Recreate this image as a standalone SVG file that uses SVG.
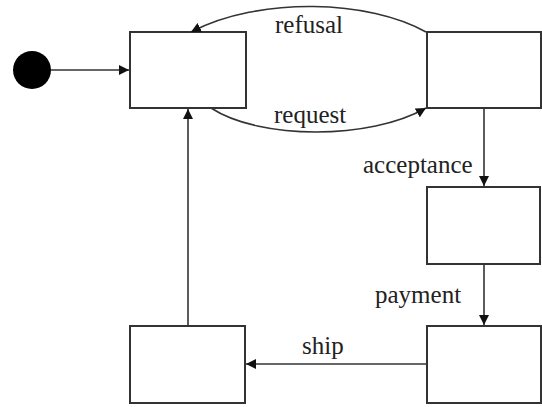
<svg xmlns="http://www.w3.org/2000/svg" width="542" height="407" viewBox="0 0 542 407">
<defs>
<marker id="ah" viewBox="0 0 10 10" refX="10" refY="5" markerWidth="10" markerHeight="10" markerUnits="userSpaceOnUse" orient="auto">
<path d="M0,0 L10,5 L0,10 z" fill="#111"/>
</marker>
</defs>
<style>
.box{fill:#fff;stroke:#333;stroke-width:2}
.con{fill:none;stroke:#333;stroke-width:1.6;marker-end:url(#ah)}
.lbl{font-family:"Liberation Serif",serif;font-size:25px;fill:#222}
</style>
<g id="start"><circle cx="32" cy="70" r="19" fill="#000"/></g>
<g id="s1"><rect class="box" x="130" y="32" width="116" height="76"/></g>
<g id="s2"><rect class="box" x="427" y="32" width="114" height="76"/></g>
<g id="s3"><rect class="box" x="427" y="187" width="113" height="77"/></g>
<g id="s4"><rect class="box" x="427" y="326" width="114" height="77"/></g>
<g id="s5"><rect class="box" x="130" y="326" width="115" height="77"/></g>
<g id="connectors">
<path class="con" d="M51,70 L129,70"/>
<path class="con" d="M426,32 C370,0 260,-4 191,32"/>
<path class="con" d="M211,108 C260,140 370,140 426,108"/>
<path class="con" d="M484,108 L484,186"/>
<path class="con" d="M484,264 L484,325"/>
<path class="con" d="M427,364 L246,364"/>
<path class="con" d="M188,326 L188,109"/>
</g>
<g id="labels">
<text class="lbl" x="275" y="33">refusal</text>
<text class="lbl" x="274" y="123">request</text>
<text class="lbl" x="363" y="173">acceptance</text>
<text class="lbl" x="375" y="303">payment</text>
<text class="lbl" x="302" y="354">ship</text>
</g>
</svg>
